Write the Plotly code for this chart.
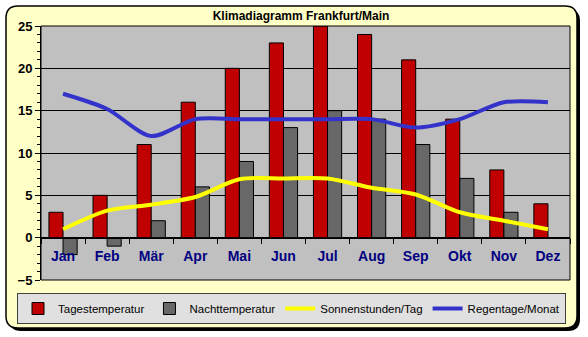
import plotly.graph_objects as go

months = ["Jan", "Feb", "Mär", "Apr", "Mai", "Jun", "Jul", "Aug", "Sep", "Okt", "Nov", "Dez"]
tages = [3, 5, 11, 16, 20, 23, 25, 24, 21, 14, 8, 4]
nacht = [-2, -1, 2, 6, 9, 13, 15, 14, 11, 7, 3, 0]
sonne = [1, 3.2, 3.9, 4.8, 6.9, 7, 7, 5.9, 5.1, 3, 2, 1]
regen = [17, 15.2, 12, 14, 14, 14, 14, 14, 13, 14, 16, 16]

W, H = 588, 337
L, R, T, B = 41, 570, 26, 280


def X(px):
    return (px - L) / (R - L)


def Y(py):
    return (B - py) / (B - T)


def rrect(x0, y0, x1, y1, r):
    return (f"M {X(x0 + r)},{Y(y0)} L {X(x1 - r)},{Y(y0)} "
            f"Q {X(x1)},{Y(y0)} {X(x1)},{Y(y0 + r)} "
            f"L {X(x1)},{Y(y1 - r)} Q {X(x1)},{Y(y1)} {X(x1 - r)},{Y(y1)} "
            f"L {X(x0 + r)},{Y(y1)} Q {X(x0)},{Y(y1)} {X(x0)},{Y(y1 - r)} "
            f"L {X(x0)},{Y(y0 + r)} Q {X(x0)},{Y(y0)} {X(x0 + r)},{Y(y0)} Z")


font_family = "Arial, Liberation Sans, sans-serif"

fig = go.Figure()
fig.add_trace(go.Bar(x=months, y=tages, name="Tagestemperatur",
                     marker=dict(color="#C00000", line=dict(color="black", width=1))))
fig.add_trace(go.Bar(x=months, y=nacht, name="Nachttemperatur",
                     marker=dict(color="#686868", line=dict(color="black", width=1))))
fig.add_trace(go.Scatter(x=months, y=sonne, name="Sonnenstunden/Tag", mode="lines",
                         line=dict(color="#FFFF00", width=4, shape="spline", smoothing=0.8)))
fig.add_trace(go.Scatter(x=months, y=regen, name="Regentage/Monat", mode="lines",
                         line=dict(color="#3333CC", width=4, shape="spline", smoothing=0.8)))

shapes = [
    dict(type="path", xref="paper", yref="paper", path=rrect(9, 9, 580, 331, 12),
         fillcolor="black", line=dict(width=0), layer="below"),
    dict(type="path", xref="paper", yref="paper", path=rrect(6, 6, 577, 328, 12),
         fillcolor="#FFFFC8", line=dict(color="black", width=1.5), layer="below"),
    dict(type="rect", xref="paper", yref="paper", x0=0, x1=1, y0=0, y1=1,
         fillcolor="#C0C0C0", line=dict(width=0), layer="below"),
    dict(type="rect", xref="paper", yref="paper", x0=0, x1=1, y0=0, y1=1,
         fillcolor="rgba(0,0,0,0)", line=dict(color="black", width=1), layer="above"),
]

fig.update_layout(
    width=W, height=H,
    margin=dict(l=L, r=W - R, t=T, b=H - B, pad=0, autoexpand=False),
    paper_bgcolor="white",
    plot_bgcolor="rgba(0,0,0,0)",
    font=dict(family=font_family, color="black"),
    barmode="group", bargap=0.36, bargroupgap=0,
    title=dict(text="<b>Klimadiagramm Frankfurt/Main</b>", font=dict(size=12, color="black"),
               xref="container", x=301 / W, xanchor="center",
               yref="container", y=1 - 16 / H, yanchor="middle"),
    shapes=shapes,
    showlegend=True,
    legend=dict(orientation="h", x=X(17), xanchor="left", y=Y(293), yanchor="top",
                bgcolor="#E0E0E0", bordercolor="#404040", borderwidth=1,
                font=dict(size=11.5, color="black"), itemwidth=30,
                traceorder="normal"),
    xaxis=dict(anchor="free", position=1 / 6, range=[-0.5, 11.5],
               showline=True, linecolor="black", linewidth=1,
               ticks="outside", ticklen=5, tickcolor="black", tickson="boundaries",
               ticklabelstandoff=6,
               tickfont=dict(size=14, color="#000080", family=font_family, weight="bold"),
               showgrid=False, zeroline=False, fixedrange=True),
    yaxis=dict(range=[-5, 25], dtick=5, tick0=0,
               showline=True, linecolor="black", linewidth=1,
               ticks="outside", ticklen=5, tickcolor="black",
               tickfont=dict(size=13, color="black", family=font_family, weight="bold"),
               showgrid=True, gridcolor="black", gridwidth=1,
               zeroline=True, zerolinecolor="black", zerolinewidth=1,
               minor=dict(dtick=1, ticks="outside", ticklen=3, tickcolor="black", showgrid=False),
               fixedrange=True),
)

fig.write_html("out.html")
